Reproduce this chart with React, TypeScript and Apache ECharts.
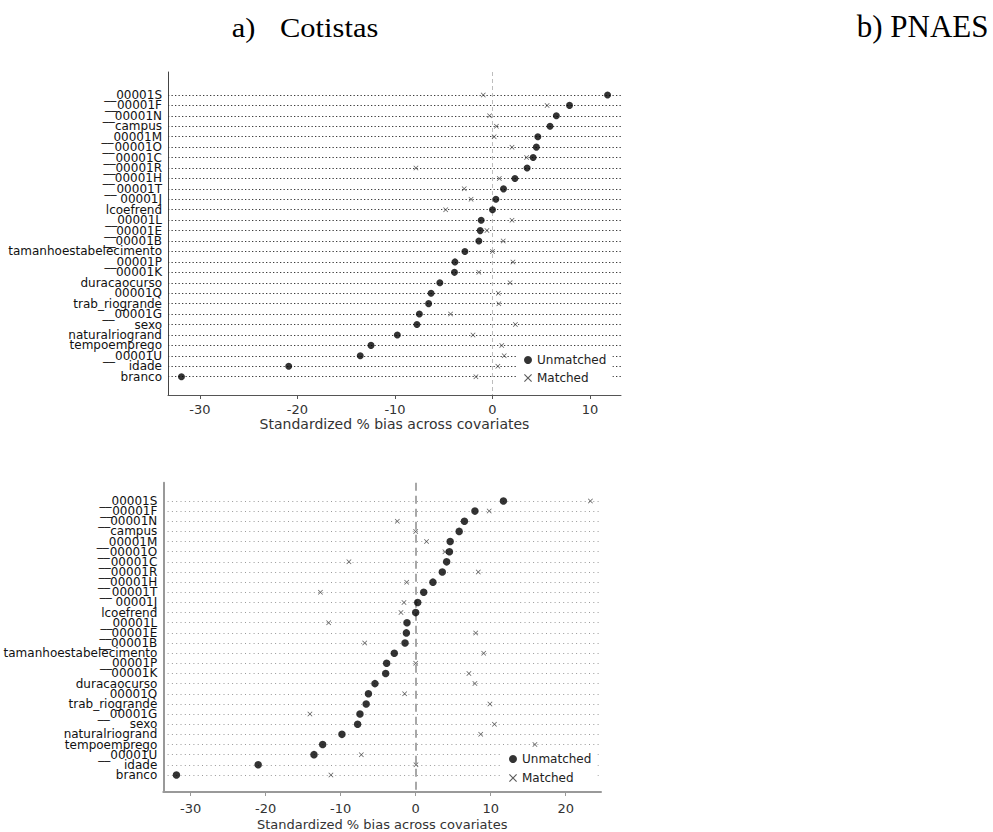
import React, { useEffect, useRef } from "react";
import * as echarts from "echarts";

const variables = [
  "__00001S", "__00001F", "__00001N", "campus", "__00001M", "__00001O", "__00001C",
  "__00001R", "__00001H", "__00001T", "00001J", "lcoefrend", "__00001L", "__00001E",
  "__00001B", "tamanhoestabelecimento", "__00001P", "00001K", "duracaocurso", "00001Q",
  "trab_riogrande", "__00001G", "sexo", "naturalriogrand", "tempoemprego", "__00001U",
  "idade", "branco",
];

const cotistasUnmatched = [
  11.8, 7.9, 6.55, 5.9, 4.65, 4.5, 4.17, 3.55, 2.3, 1.13, 0.35, 0, -1.16, -1.26,
  -1.4, -2.83, -3.85, -3.9, -5.4, -6.3, -6.55, -7.5, -7.75, -9.76, -12.46, -13.56,
  -20.9, -31.9,
];
const cotistasMatched = [
  -0.95, 5.6, -0.3, 0.4, 0.17, 2.0, 3.5, -7.85, 0.7, -2.9, -2.2, -4.8, 2.0, -0.57,
  1.1, 0, 2.1, -1.4, 1.8, 0.6, 0.65, -4.3, 2.35, -2.0, 0.95, 1.2, 0.55, -1.7,
];

const pnaesUnmatched = [
  11.7, 7.9, 6.5, 5.8, 4.6, 4.5, 4.13, 3.55, 2.3, 1.07, 0.27, 0, -1.16, -1.24,
  -1.42, -2.85, -3.87, -4.0, -5.43, -6.3, -6.6, -7.43, -7.74, -9.83, -12.4, -13.56,
  -21.0, -31.9,
];
const pnaesMatched = [
  23.3, 9.8, -2.45, 0, 1.45, 3.9, -8.9, 8.35, -1.2, -12.7, -1.56, -1.96, -11.6, 8.0,
  -6.8, 9.07, 0, 7.1, 7.9, -1.47, 9.9, -14.1, 10.5, 8.67, 15.9, -7.25, 0.04, -11.3,
];

const cotistasTicks = [-30, -20, -10, 0, 10];
const pnaesTicks = [-30, -20, -10, 0, 10, 20];
const axisTitle = "Standardized % bias across covariates";
const legendNames = ["Unmatched", "Matched"];

const SANS = '"DejaVu Sans", sans-serif';
const SERIF = '"Liberation Serif", "Times New Roman", serif';
const CROSS = "path://M0,1L1,0L5,4L9,0L10,1L6,5L10,9L9,10L5,6L1,10L0,9L4,5Z";

export default function App() {
  const ref = useRef<HTMLDivElement>(null);

  useEffect(() => {
    document.body.style.margin = "0";
    if (!ref.current) return;
    const chart = echarts.init(ref.current, undefined, { renderer: "svg" });
    const rows = variables.map((_, i) => i);
    const last = rows.length - 1;
    // ECharts drops the label next to the min/max one when they overlap,
    // so the 2nd and 2nd-to-last labels are drawn by a twin axis.
    const twinRows = [1, last - 1];
    const mainRows = rows.filter((i) => !twinRows.includes(i));

    const pts = (vals: number[]) => vals.map((v, i) => [v, i]);

    const rowLines = (color: string, width: number, dash: number[]) =>
      rows.map((i) => ({ yAxis: i, lineStyle: { color, width, type: dash } }));

    const yAxisBase = (
      gridIndex: number, min: number, max: number, lineColor: string, lineWidth: number,
      values: number[], showLine: boolean,
    ) => ({
      type: "value",
      gridIndex,
      position: "left",
      inverse: true,
      min,
      max,
      axisLine: { show: showLine, onZero: false, lineStyle: { color: lineColor, width: lineWidth } },
      axisTick: { show: false },
      splitLine: { show: false },
      axisLabel: {
        customValues: values,
        showMinLabel: true,
        showMaxLabel: true,
        formatter: (v: number) => variables[Math.round(v)] ?? "",
        fontFamily: SANS,
        fontSize: 12,
        color: "#111",
        margin: 6,
      },
    });

    const xAxisBase = (
      gridIndex: number, min: number, max: number, ticks: number[], lineColor: string,
      lineWidth: number, nameGap: number, labelMargin: number, nameSize: number,
    ) => ({
      type: "value",
      gridIndex,
      min,
      max,
      axisLine: { show: true, onZero: false, lineStyle: { color: lineColor, width: lineWidth } },
      axisTick: { show: true, customValues: ticks, length: 4, lineStyle: { color: lineColor, width: 1 } },
      splitLine: { show: false },
      axisLabel: {
        customValues: ticks,
        showMinLabel: true,
        showMaxLabel: true,
        fontFamily: SANS,
        fontSize: 13,
        color: "#333",
        margin: labelMargin,
      },
      name: axisTitle,
      nameLocation: "middle",
      nameGap,
      nameTextStyle: { fontFamily: SANS, fontSize: nameSize, color: "#333" },
    });

    const legendBase = (left: number, top: number, gap: number) => ({
      data: [
        { name: legendNames[0], icon: "circle" },
        { name: legendNames[1], icon: CROSS },
      ],
      orient: "vertical",
      left,
      top,
      itemWidth: 8,
      itemHeight: 8,
      itemGap: gap,
      padding: [4, 6, 4, 6],
      backgroundColor: "#fff",
      selectedMode: false,
      textStyle: { fontFamily: SANS, fontSize: 12, color: "#222" },
    });

    const option: any = {
      animation: false,
      backgroundColor: "#fff",
      grid: [
        { left: 168, right: 372, top: 72, bottom: 437 },
        { left: 163.3, right: 392, top: 482.7, bottom: 40 },
      ],
      xAxis: [
        xAxisBase(0, -33.28, 13.18, cotistasTicks, "#555", 1, 22, 8, 14),
        xAxisBase(1, -33.65, 24.71, pnaesTicks, "#999", 2, 26, 10, 13),
      ],
      yAxis: [
        yAxisBase(0, -2.2, 28.755, "#444", 1, mainRows, true),
        yAxisBase(0, -2.2, 28.755, "#444", 1, twinRows, false),
        yAxisBase(1, -1.8, 28.68, "#999", 2, mainRows, true),
        yAxisBase(1, -1.8, 28.68, "#999", 2, twinRows, false),
      ],
      legend: [legendBase(518, 350, 6), legendBase(503, 749, 7)],
      series: [
        {
          name: legendNames[1],
          type: "scatter",
          xAxisIndex: 0,
          yAxisIndex: 0,
          symbol: CROSS,
          symbolSize: 5,
          itemStyle: { color: "#333" },
          z: 10,
          data: pts(cotistasMatched),
          markLine: {
            silent: true,
            z: 1,
            symbol: ["none", "none"],
            label: { show: false },
            data: [
              ...rowLines("#3a3a3a", 1.2, [1.3, 2.2]),
              { xAxis: 0, lineStyle: { color: "#bdbdbd", width: 1, type: [4, 3] } },
            ],
          },
        },
        {
          name: legendNames[0],
          type: "scatter",
          xAxisIndex: 0,
          yAxisIndex: 0,
          symbol: "circle",
          symbolSize: 7,
          itemStyle: { color: "#000" },
          z: 11,
          data: pts(cotistasUnmatched),
        },
        {
          name: legendNames[1],
          type: "scatter",
          xAxisIndex: 1,
          yAxisIndex: 2,
          symbol: CROSS,
          symbolSize: 5,
          itemStyle: { color: "#333" },
          z: 10,
          data: pts(pnaesMatched),
          markLine: {
            silent: true,
            z: 1,
            symbol: ["none", "none"],
            label: { show: false },
            data: [
              ...rowLines("#9a9a9a", 1, [1, 3.3]),
              { xAxis: 0, lineStyle: { color: "#a8a8a8", width: 2, type: [8, 5] } },
            ],
          },
        },
        {
          name: legendNames[0],
          type: "scatter",
          xAxisIndex: 1,
          yAxisIndex: 2,
          symbol: "circle",
          symbolSize: 7.5,
          itemStyle: { color: "#000" },
          z: 11,
          data: pts(pnaesUnmatched),
        },
      ],
      graphic: [
        {
          type: "text",
          x: 231.7,
          y: 27.5,
          scaleX: 1.13,
          style: { text: "a)", font: `27px ${SERIF}`, fill: "#000", verticalAlign: "middle" },
        },
        {
          type: "text",
          x: 280,
          y: 27.5,
          scaleX: 1.13,
          style: { text: "Cotistas", font: `27px ${SERIF}`, fill: "#000", verticalAlign: "middle" },
        },
        {
          type: "text",
          x: 856.7,
          y: 26,
          style: { text: "b) PNAES", font: `31px ${SERIF}`, fill: "#000", verticalAlign: "middle" },
        },
      ],
    };

    chart.setOption(option);
    return () => chart.dispose();
  }, []);

  return <div ref={ref} style={{ width: 993, height: 832 }} />;
}
